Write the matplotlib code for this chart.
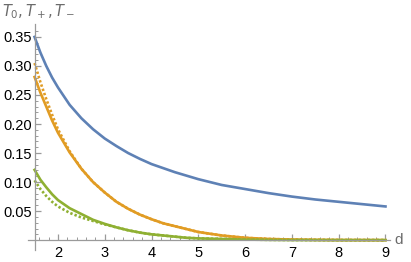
import matplotlib
matplotlib.use("Agg")
import matplotlib.pyplot as plt
import numpy as np

plt.rcParams['font.family'] = ['Liberation Sans', 'DejaVu Sans']
plt.rcParams['mathtext.fontset'] = 'dejavusans'

# values
d = [1.5, 1.625, 1.75, 1.875, 2.0, 2.25, 2.5, 2.75, 3.0, 3.25, 3.5, 3.75, 4.0, 4.25, 4.5,
     4.75, 5.0, 5.5, 6.0, 6.5, 7.0, 7.5, 8.0, 8.5, 9.0]
t0 = [0.350, 0.323, 0.300, 0.280, 0.263, 0.233, 0.210, 0.191, 0.175, 0.162, 0.150, 0.140,
      0.131, 0.124, 0.117, 0.111, 0.105, 0.095, 0.088, 0.081, 0.075, 0.070, 0.066, 0.062, 0.058]
tp = [0.281, 0.254, 0.230, 0.206, 0.185, 0.151, 0.123, 0.100, 0.082, 0.066, 0.054, 0.044,
      0.036, 0.029, 0.024, 0.019, 0.014, 0.008, 0.004, 0.002, 0.001, 0.0005, 0.0002, 0.0001, 0.0]
tp_approx = [0.305, 0.272, 0.243, 0.216, 0.191, 0.153, 0.123, 0.100, 0.082, 0.066, 0.054, 0.044,
             0.036, 0.029, 0.024, 0.019, 0.014, 0.008, 0.004, 0.002, 0.001, 0.0005, 0.0002, 0.0001, 0.0]
tm = [0.121, 0.104, 0.091, 0.079, 0.069, 0.055, 0.045, 0.035, 0.028, 0.022, 0.017, 0.013,
      0.010, 0.008, 0.006, 0.004, 0.003, 0.002, 0.001, 0.0005, 0.0002, 0.0001, 0.0, 0.0, 0.0]
tm_approx = [0.103, 0.088, 0.076, 0.066, 0.058, 0.047, 0.039, 0.033, 0.027, 0.022, 0.017, 0.013,
             0.010, 0.008, 0.006, 0.004, 0.003, 0.002, 0.001, 0.0005, 0.0002, 0.0001, 0.0, 0.0, 0.0]

xticks = [2, 3, 4, 5, 6, 7, 8, 9]
yticks = [0.05, 0.10, 0.15, 0.20, 0.25, 0.30, 0.35]

blue, orange, green = '#5E81B5', '#E19C24', '#8FB032'

fig = plt.figure(figsize=(4.11, 2.62), dpi=100)
ax = fig.add_axes([0.0693, 0.0458, 0.880, 0.862])

lw = 1.9
dots = (0, (0.9, 0.8))
ax.plot(d, t0, color=blue, lw=lw)
ax.plot(d, tp, color=orange, lw=lw)
ax.plot(d, tm, color=green, lw=lw)
ax.plot(d, tp_approx, color=orange, lw=lw, linestyle=dots)
ax.plot(d, tm_approx, color=green, lw=lw, linestyle=dots)

ax.set_xlim(1.37, 9.1)
ax.set_ylim(-0.017, 0.372)

for s in ['top', 'right']:
    ax.spines[s].set_visible(False)
ax.spines['left'].set_position(('data', 1.5))
ax.spines['bottom'].set_position(('data', 0))
for s in ['left', 'bottom']:
    ax.spines[s].set_color('#9a9a9a')
    ax.spines[s].set_linewidth(0.9)

ax.set_xticks(xticks)
ax.set_xticklabels([str(x) for x in xticks])
ax.set_yticks(yticks)
ax.set_yticklabels(['%.2f' % y for y in yticks])
ax.set_xticks(np.arange(1.6, 9.01, 0.2), minor=True)
ax.set_yticks(np.arange(0.01, 0.365, 0.01), minor=True)
ax.tick_params(which='major', direction='in', length=4, width=0.9, color='#9a9a9a',
               labelsize=10.5, labelcolor='black')
ax.tick_params(which='minor', direction='in', length=2.2, width=0.7, color='#9a9a9a')
ax.tick_params(axis='x', pad=4)
ax.tick_params(axis='y', pad=2)

fig.text(0.005, 0.955, r'$T_0,T_+,T_-$', color='#6b6b6b', fontsize=10.5, va='center', ha='left')
fig.text(0.960, 0.084, 'd', color='#6b6b6b', fontsize=11, va='center', ha='left')

fig.savefig('out.png', dpi=100)
